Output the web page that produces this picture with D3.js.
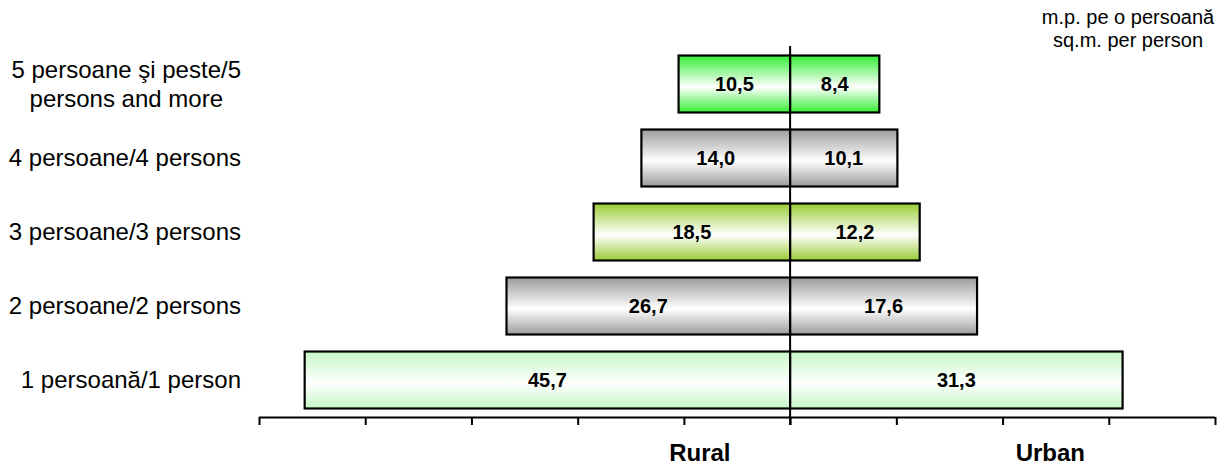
<!DOCTYPE html>
<html>
<head>
<meta charset="utf-8">
<script src="https://cdn.jsdelivr.net/npm/d3@7"></script>
<style>
  body { margin: 0; background: #fff; }
  text { font-family: "Liberation Sans", Arial, sans-serif; }
</style>
</head>
<body>
<div id="chart"></div>
<script>
// categories, top to bottom
const categories = [
    ["5 persoane şi peste/5", "persons and more"],
    ["4 persoane/4 persons"],
    ["3 persoane/3 persons"],
    ["2 persoane/2 persons"],
    ["1 persoană/1 person"]
];
const rural = [10.5, 14.0, 18.5, 26.7, 45.7];
const urban = [8.4, 10.1, 12.2, 17.6, 31.3];
const barColors = ["#33ee33", "#9c9c9c", "#99cc33", "#c6f7c6"];
const colorIndex = [0, 1, 2, 1, 3];
const tickValues = [-50, -40, -30, -20, -10, 0, 10, 20, 30, 40];
const sideTitles = [["Rural", -8.5], ["Urban", 24.5]];
const unitLines = ["m.p. pe o persoană", "sq.m. per person"];

const svg = d3.select("#chart").append("svg");
svg.attr("width", 1222).attr("height", 467);

const x = d3.scaleLinear().domain([-50, 40]).range([259, 1215]);
const y = d3.scaleBand().domain(d3.range(categories.length)).range([47, 417])
    .paddingInner(0.23).paddingOuter(0.115);

const fmt = v => v.toFixed(1).replace(".", ",");

// gradients: colour at the edges, white in the middle
const defs = svg.append("defs");
barColors.forEach((c, i) => {
    const g = defs.append("linearGradient")
        .attr("id", `grad_${i}`)
        .attr("x1", 0).attr("y1", 0).attr("x2", 0).attr("y2", 1);
    g.append("stop").attr("offset", "0%").attr("stop-color", c);
    g.append("stop").attr("offset", "55%").attr("stop-color", "#ffffff");
    g.append("stop").attr("offset", "100%").attr("stop-color", c);
});

// axis
svg.append("g")
    .attr("transform", `translate(0, ${y.range()[1]})`)
    .call(d3.axisBottom(x).tickValues(tickValues).tickSize(8).tickSizeOuter(0).tickFormat(""))
    .call(g => g.select(".domain").attr("stroke-width", 2).attr("d", `M${x(-50)},0.5H${x(40)}`))
    .call(g => g.selectAll(".tick line").attr("stroke-width", 2));

// bars
const rows = svg.selectAll(".row")
    .data(categories.map((c, i) => ({ label: c, r: rural[i], u: urban[i], ci: colorIndex[i], i })))
    .join("g")
    .attr("class", "row");

rows.append("rect")
    .attr("x", d => x(-d.r))
    .attr("y", d => y(d.i))
    .attr("width", d => x(0) - x(-d.r))
    .attr("height", y.bandwidth())
    .attr("fill", d => `url(#grad_${d.ci})`)
    .attr("stroke", "#000")
    .attr("stroke-width", 2.2);

rows.append("rect")
    .attr("x", x(0))
    .attr("y", d => y(d.i))
    .attr("width", d => x(d.u) - x(0))
    .attr("height", y.bandwidth())
    .attr("fill", d => `url(#grad_${d.ci})`)
    .attr("stroke", "#000")
    .attr("stroke-width", 2.2);

rows.append("text")
    .attr("x", d => (x(-d.r) + x(0)) / 2)
    .attr("y", d => y(d.i) + y.bandwidth() / 2 + 7)
    .attr("text-anchor", "middle")
    .style("font-size", "20px")
    .style("font-weight", "bold")
    .text(d => fmt(d.r));

rows.append("text")
    .attr("x", d => (x(d.u) + x(0)) / 2)
    .attr("y", d => y(d.i) + y.bandwidth() / 2 + 7)
    .attr("text-anchor", "middle")
    .style("font-size", "20px")
    .style("font-weight", "bold")
    .text(d => fmt(d.u));

// category labels, right aligned; wrapped lines centred on each other
rows.each(function (d) {
    const g = d3.select(this);
    const n = d.label.length;
    const t = g.append("text")
        .style("font-size", "24px")
        .attr("text-anchor", "middle");
    d.label.forEach((line, k) => {
        t.append("tspan")
            .attr("x", 0)
            .attr("y", y(d.i) + y.bandwidth() / 2 + 8 + (k - (n - 1) / 2) * 29)
            .text(line);
    });
    const w = t.node().getBBox().width;
    t.attr("transform", `translate(${241 - w / 2}, 0)`);
});

// centre line
svg.append("line")
    .attr("x1", x(0)).attr("x2", x(0))
    .attr("y1", 46).attr("y2", y.range()[1] + 8)
    .attr("stroke", "#000")
    .attr("stroke-width", 2);

// side titles
svg.selectAll(".side")
    .data(sideTitles)
    .join("text")
    .attr("class", "side")
    .attr("x", d => x(d[1]))
    .attr("y", 461)
    .attr("text-anchor", "middle")
    .style("font-size", "24px")
    .style("font-weight", "bold")
    .text(d => d[0]);

// unit note
svg.selectAll(".unit")
    .data(unitLines)
    .join("text")
    .attr("class", "unit")
    .attr("x", 1128)
    .attr("y", (_, i) => 24 + i * 23)
    .attr("text-anchor", "middle")
    .style("font-size", "20px")
    .text(d => d);
</script>
</body>
</html>
